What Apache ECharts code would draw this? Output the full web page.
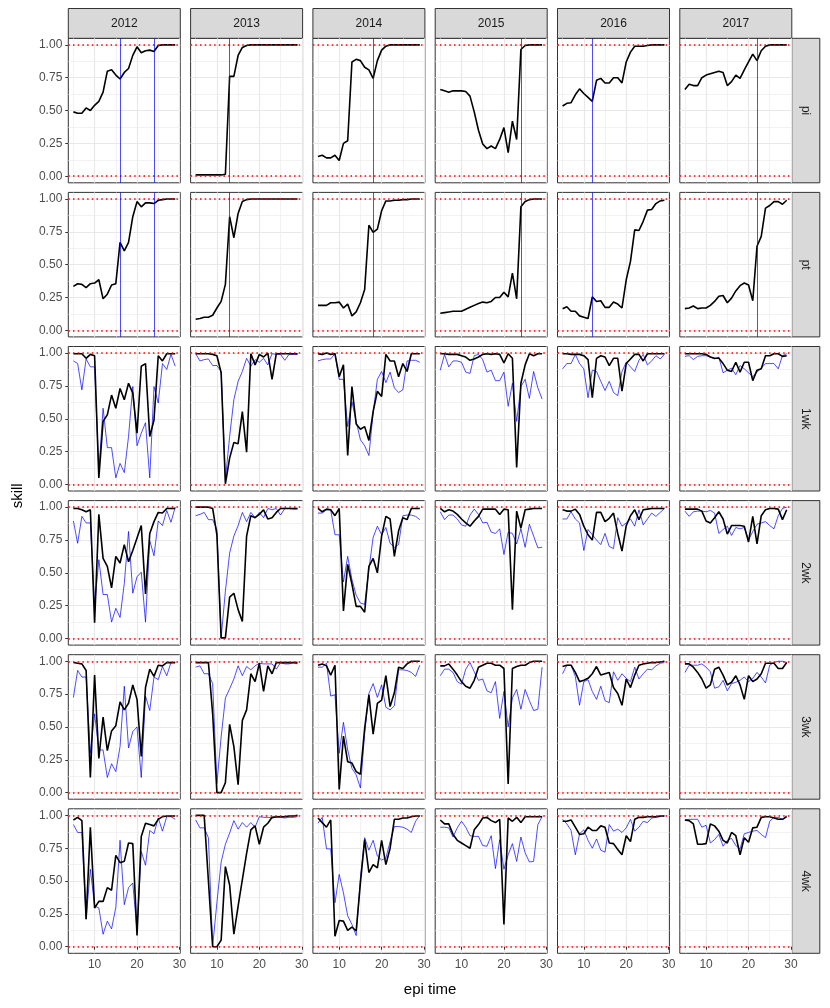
<!DOCTYPE html>
<html>
<head>
<meta charset="utf-8">
<title>skill by epi time</title>
<script src="https://cdn.jsdelivr.net/npm/echarts@6.0.0/dist/echarts.min.js"></script>
<style>
  html, body { margin: 0; padding: 0; background: #fff; }
  #chart { width: 830px; height: 1008px; }
</style>
</head>
<body>
<div id="chart"></div>
<script>
// facets
var years = ['2012', '2013', '2014', '2015', '2016', '2017'];
var rowNames = ['pi', 'pt', '1wk', '2wk', '3wk', '4wk'];

// epi weeks (x values)
var weeks = [5, 6, 7, 8, 9, 10, 11, 12, 13, 14, 15, 16, 17, 18, 19, 20, 21, 22, 23, 24, 25, 26, 27, 28, 29];

// tick labels
var xTicks = [10, 20, 30];
var xMinor = [5, 15, 25];
var yTicks = [0, 0.25, 0.5, 0.75, 1];
var yMinor = [0.125, 0.375, 0.625, 0.875];
var refLines = [0, 1];

// blue vertical markers in pi / pt rows, per year
var peakWeeks = [[16, 24], [13], [18], [24], [12], [22]];

// pi (black)
var pi_2012 = [0.49,0.48,0.48,0.52,0.50,0.54,0.57,0.64,0.80,0.81,0.77,0.74,0.79,0.82,0.92,0.985,0.94,0.955,0.96,0.95,0.995,1,1,1,1];
var pi_2013 = [0.01,0.01,0.01,0.01,0.01,0.01,0.01,0.015,0.76,0.76,0.92,0.98,0.995,1,1,1,1,1,1,1,1,1,1,1,1];
var pi_2014 = [0.15,0.16,0.14,0.14,0.16,0.12,0.25,0.27,0.87,0.89,0.88,0.83,0.81,0.745,0.88,0.96,0.99,1,1,1,1,1,1,1,1];
var pi_2015 = [0.66,0.65,0.64,0.65,0.65,0.65,0.645,0.61,0.49,0.35,0.245,0.21,0.23,0.21,0.28,0.37,0.18,0.42,0.28,0.965,0.995,1,1,1,1];
var pi_2016 = [0.535,0.555,0.56,0.62,0.665,0.63,0.60,0.57,0.73,0.745,0.71,0.71,0.75,0.75,0.71,0.87,0.945,0.99,0.99,0.99,0.995,1,1,1,1];
var pi_2017 = [0.66,0.70,0.69,0.69,0.75,0.77,0.78,0.79,0.80,0.79,0.69,0.72,0.77,0.745,0.81,0.87,0.93,0.88,0.955,0.99,1,1,1,1,1];

// pt (black)
var pt_2012 = [0.335,0.355,0.35,0.325,0.355,0.36,0.385,0.24,0.275,0.345,0.355,0.67,0.605,0.67,0.865,0.98,0.94,0.97,0.97,0.965,0.99,0.995,1,1,1];
var pt_2013 = [0.085,0.09,0.10,0.10,0.115,0.17,0.22,0.35,0.865,0.705,0.89,0.98,0.995,1,1,1,1,1,1,1,1,1,1,1,1];
var pt_2014 = [0.19,0.19,0.19,0.21,0.21,0.215,0.17,0.20,0.11,0.14,0.21,0.31,0.80,0.745,0.77,0.91,0.985,0.985,0.99,0.99,0.995,0.995,1,1,1];
var pt_2015 = [0.13,0.135,0.14,0.145,0.145,0.145,0.16,0.175,0.19,0.205,0.215,0.21,0.22,0.25,0.25,0.29,0.255,0.435,0.24,0.94,0.98,0.995,1,1,1];
var pt_2016 = [0.165,0.18,0.145,0.145,0.11,0.10,0.09,0.255,0.22,0.225,0.175,0.175,0.215,0.20,0.17,0.385,0.525,0.765,0.76,0.83,0.915,0.92,0.965,0.985,0.99];
var pt_2017 = [0.165,0.17,0.185,0.165,0.17,0.17,0.19,0.22,0.26,0.265,0.21,0.245,0.30,0.34,0.36,0.345,0.225,0.64,0.715,0.93,0.95,0.98,0.98,0.96,0.99];

// 1wk
var wk1_2012 = [0.995,0.995,0.995,0.96,0.99,0.98,0.05,0.48,0.53,0.68,0.58,0.73,0.645,0.77,0.695,0.39,0.90,0.92,0.365,0.49,0.98,0.94,0.995,0.995,0.995];
var wk1_2013 = [0.995,0.995,0.995,0.995,0.99,0.98,0.85,0.005,0.20,0.32,0.31,0.555,0.245,0.995,0.91,0.99,0.97,1.0,0.80,0.995,0.995,0.995,0.995,0.995,0.995];
var wk1_2014 = [0.995,0.99,1.0,0.99,0.995,0.82,0.91,0.22,0.745,0.46,0.42,0.44,0.335,0.555,0.71,0.67,0.99,0.94,0.94,0.82,0.92,0.86,0.995,0.995,0.995];
var wk1_2015 = [0.995,0.995,0.99,0.99,0.99,0.98,0.97,0.945,0.955,0.97,0.99,0.995,0.99,0.995,0.99,0.925,0.995,0.96,0.13,0.77,0.91,0.995,0.98,0.995,0.995];
var wk1_2016 = [0.995,0.995,0.99,0.99,0.99,0.98,0.95,0.66,0.96,0.98,0.97,0.905,0.96,0.96,0.71,0.92,0.955,0.99,0.99,0.94,0.995,0.995,0.995,0.995,0.995];
var wk1_2017 = [0.995,0.995,0.995,0.995,0.995,0.99,0.97,0.96,0.96,0.92,0.87,0.86,0.93,0.855,0.93,0.93,0.79,0.87,0.88,0.98,0.98,0.995,0.995,0.975,0.98];
var wk1b_2012 = [0.94,0.92,0.72,0.955,0.895,0.895,0.10,0.58,0.28,0.28,0.05,0.16,0.09,0.365,0.745,0.295,0.39,0.47,0.05,0.745,0.62,0.92,0.875,0.99,0.90];
var wk1b_2013 = [0.995,0.94,0.95,0.955,0.905,0.905,0.86,0.035,0.365,0.645,0.785,0.86,0.96,0.90,0.95,0.93,0.96,0.91,0.995,0.99,0.99,0.945,0.99,0.99,0.99];
var wk1b_2014 = [0.94,0.95,0.955,0.955,0.995,0.80,0.80,0.44,0.63,0.48,0.34,0.295,0.22,0.545,0.80,0.86,0.775,0.855,0.735,0.70,0.72,0.94,0.945,0.945,0.93];
var wk1b_2015 = [0.87,0.99,0.895,0.94,0.94,0.93,0.855,0.845,0.98,0.99,0.95,0.855,0.87,0.79,0.79,0.855,0.595,0.77,0.48,0.745,0.80,0.655,0.86,0.735,0.65];
var wk1b_2016 = [0.88,0.92,0.92,0.99,0.92,0.88,0.66,0.87,0.86,0.785,0.715,0.785,0.70,0.675,0.86,0.93,0.895,0.86,0.945,0.99,0.91,0.94,0.98,0.955,0.99];
var wk1b_2017 = [0.975,0.98,0.95,0.975,0.98,0.98,0.97,0.955,0.97,0.85,0.87,0.885,0.835,0.905,0.88,0.85,0.82,0.855,0.885,0.92,0.92,0.92,0.88,0.98,0.995];

// 2wk
var wk2_2012 = [0.99,0.99,0.98,0.965,0.98,0.12,0.945,0.61,0.55,0.385,0.625,0.575,0.715,0.585,0.67,0.765,0.86,0.34,0.80,0.89,0.96,0.955,0.99,0.99,0.99];
var wk2_2013 = [1,1,1,1,0.99,0.79,0.005,0.005,0.315,0.345,0.22,0.13,0.78,0.935,0.92,0.945,0.98,0.91,0.92,0.96,0.99,0.99,0.99,0.99,0.99];
var wk2_2014 = [0.99,0.965,0.985,0.98,0.935,0.99,0.21,0.565,0.415,0.245,0.245,0.20,0.55,0.61,0.50,0.78,0.93,0.91,0.625,0.82,0.92,0.905,0.99,0.99,0.99];
var wk2_2015 = [0.99,0.965,0.98,0.97,0.945,0.91,0.88,0.855,0.895,0.93,0.985,0.985,0.985,0.985,0.945,0.985,0.98,0.22,0.97,0.84,0.98,0.985,0.99,0.99,0.99];
var wk2_2016 = [0.98,0.97,0.97,0.985,0.945,0.855,0.79,0.75,0.96,0.96,0.89,0.915,0.955,0.80,0.665,0.86,0.935,0.98,0.905,0.98,0.985,0.99,0.99,0.99,0.99];
var wk2_2017 = [0.985,0.985,0.985,0.985,0.97,0.895,0.88,0.92,0.965,0.91,0.795,0.86,0.86,0.86,0.855,0.735,0.93,0.72,0.935,0.98,0.99,0.99,0.985,0.905,0.98];
var wk2b_2012 = [0.895,0.725,0.93,0.88,0.88,0.25,0.60,0.335,0.335,0.125,0.23,0.16,0.42,0.815,0.345,0.47,0.505,0.125,0.745,0.63,0.895,0.86,0.975,0.885,1.0];
var wk2b_2013 = [0.935,0.945,0.96,0.905,0.905,0.83,0.005,0.36,0.65,0.78,0.86,0.96,0.89,0.96,0.92,0.96,0.92,0.99,0.98,0.99,0.94,0.99,0.99,0.985,0.985];
var wk2b_2014 = [0.955,0.955,0.98,0.98,0.79,0.79,0.43,0.625,0.45,0.33,0.27,0.26,0.525,0.77,0.855,0.79,0.845,0.725,0.695,0.715,0.935,0.94,0.94,0.93,0.905];
var wk2b_2015 = [0.965,0.905,0.94,0.94,0.91,0.865,0.855,0.94,0.985,0.945,0.88,0.885,0.81,0.80,0.835,0.64,0.81,0.80,0.72,0.835,0.695,0.87,0.78,0.69,0.695];
var wk2b_2016 = [0.91,0.91,0.965,0.91,0.88,0.67,0.83,0.79,0.75,0.715,0.80,0.70,0.685,0.92,0.855,0.88,0.91,0.855,0.98,0.865,0.91,0.955,0.93,0.96,0.99];
var wk2b_2017 = [0.97,0.93,0.965,0.97,0.97,0.965,0.975,0.955,0.80,0.83,0.855,0.785,0.845,0.835,0.845,0.75,0.815,0.87,0.88,0.89,0.86,0.835,0.935,0.99,1.0];

// 3wk
var wk3_2012 = [0.99,0.985,0.98,0.93,0.115,0.895,0.26,0.575,0.32,0.47,0.51,0.69,0.63,0.68,0.82,0.71,0.275,0.80,0.94,0.885,0.97,0.965,0.99,0.99,0.99];
var wk3_2013 = [0.99,0.99,0.99,0.99,0.60,0.0,0.0,0.075,0.52,0.35,0.06,0.55,0.63,0.905,0.845,0.985,0.77,0.965,0.905,0.99,0.99,0.99,0.99,0.99,0.99];
var wk3_2014 = [0.97,0.98,0.965,0.895,0.97,0.025,0.43,0.235,0.225,0.16,0.14,0.49,0.745,0.445,0.68,0.705,0.89,0.655,0.76,0.955,0.945,0.98,1,1,1];
var wk3_2015 = [0.965,0.965,0.98,0.94,0.895,0.845,0.81,0.795,0.855,0.955,0.97,0.985,0.985,0.97,0.97,0.945,0.065,0.945,0.96,0.97,0.97,0.99,1,1,1];
var wk3_2016 = [0.96,0.97,0.97,0.915,0.845,0.855,0.87,0.905,0.96,0.895,0.905,0.915,0.80,0.755,0.665,0.865,0.80,0.895,0.97,0.98,0.985,0.99,0.99,0.995,1.0];
var wk3_2017 = [0.98,0.98,0.955,0.915,0.865,0.795,0.82,0.94,0.955,0.895,0.82,0.84,0.89,0.82,0.71,0.89,0.845,0.865,0.905,0.985,0.985,0.985,0.945,0.945,0.99];
var wk3b_2012 = [0.725,0.93,0.88,0.88,0.30,0.60,0.325,0.325,0.115,0.22,0.16,0.35,0.81,0.34,0.465,0.50,0.115,0.735,0.625,0.88,0.86,0.96,0.89,0.99,0.99];
var wk3b_2013 = [0.955,0.965,0.905,0.905,0.83,0.07,0.425,0.72,0.79,0.865,0.965,0.89,0.96,0.935,0.965,0.985,0.98,0.98,0.98,0.94,0.99,0.98,0.98,0.99,0.98];
var wk3b_2014 = [0.955,0.955,0.985,0.735,0.745,0.30,0.535,0.325,0.185,0.135,0.035,0.45,0.755,0.83,0.725,0.82,0.65,0.63,0.66,0.935,0.935,0.93,0.915,0.885,0.97];
var wk3b_2015 = [0.89,0.94,0.94,0.915,0.845,0.825,0.94,0.99,0.92,0.855,0.865,0.775,0.76,0.845,0.565,0.77,0.50,0.72,0.785,0.635,0.785,0.70,0.625,0.635,0.955];
var wk3b_2016 = [0.905,0.97,0.97,0.885,0.665,0.845,0.86,0.77,0.71,0.81,0.70,0.685,0.92,0.855,0.905,0.87,0.845,0.955,0.865,0.905,0.94,0.935,0.965,0.985,0.99];
var wk3b_2017 = [0.915,0.97,0.97,0.97,0.98,0.955,0.92,0.795,0.805,0.855,0.775,0.83,0.84,0.855,0.88,0.845,0.87,0.915,0.88,0.835,0.97,0.99,1,1,0.99];

// 4wk
var wk4_2012 = [0.965,0.985,0.96,0.21,0.91,0.295,0.345,0.345,0.45,0.43,0.695,0.64,0.65,0.79,0.785,0.085,0.84,0.94,0.93,0.92,0.97,0.99,0.995,0.995,0.995];
var wk4_2013 = [1,1,1,0.50,0.0,0.0,0.05,0.61,0.47,0.095,0.31,0.51,0.71,0.89,0.92,0.78,0.91,0.94,0.985,0.99,0.99,0.99,0.995,0.995,1];
var wk4_2014 = [0.98,0.945,0.91,0.965,0.08,0.20,0.195,0.125,0.15,0.12,0.485,0.815,0.565,0.625,0.60,0.81,0.625,0.75,0.97,0.97,0.98,0.98,0.99,0.995,0.995];
var wk4_2015 = [0.965,0.935,0.935,0.855,0.81,0.79,0.77,0.75,0.89,0.93,0.98,0.985,0.96,0.945,0.97,0.17,0.98,0.955,0.985,0.945,0.99,0.99,0.99,0.99,0.99];
var wk4_2016 = [0.955,0.955,0.965,0.91,0.855,0.86,0.91,0.885,0.885,0.92,0.91,0.79,0.785,0.74,0.70,0.845,0.80,0.97,0.985,0.985,0.99,0.99,0.99,0.995,0.995];
var wk4_2017 = [0.965,0.96,0.935,0.78,0.78,0.785,0.935,0.92,0.88,0.81,0.79,0.87,0.845,0.70,0.83,0.795,0.905,0.91,0.985,0.99,0.99,0.98,0.97,0.97,0.99];
var wk4b_2012 = [0.93,0.87,0.87,0.21,0.59,0.31,0.295,0.095,0.195,0.135,0.30,0.81,0.32,0.45,0.485,0.12,0.725,0.62,0.885,0.86,0.98,0.88,0.99,0.99,0.97];
var wk4b_2013 = [0.965,0.905,0.905,0.83,0.005,0.335,0.645,0.78,0.865,0.96,0.895,0.945,0.91,0.945,0.91,0.99,0.985,0.985,0.98,0.985,0.985,0.98,0.985,0.985,0.99];
var wk4b_2014 = [0.94,0.985,0.745,0.745,0.335,0.55,0.41,0.235,0.17,0.085,0.525,0.83,0.735,0.81,0.69,0.66,0.675,0.80,0.915,0.915,0.91,0.895,0.87,0.955,1.0];
var wk4b_2015 = [0.91,0.91,0.905,0.835,0.905,0.955,0.91,0.845,0.84,0.84,0.77,0.765,0.845,0.595,0.815,0.59,0.70,0.785,0.65,0.835,0.715,0.645,0.65,0.93,0.99];
var wk4b_2016 = [0.97,0.935,0.885,0.70,0.86,0.89,0.81,0.75,0.82,0.735,0.72,0.93,0.88,0.895,0.87,0.905,0.97,0.88,0.91,0.955,0.945,0.98,0.985,0.99,0.995];
var wk4b_2017 = [0.965,0.97,0.97,0.97,0.91,0.925,0.79,0.815,0.855,0.765,0.81,0.825,0.77,0.745,0.86,0.87,0.88,0.885,0.855,0.83,0.955,0.985,0.985,0.97,0.995];

// tables: row -> year
var blackLines = [
    [pi_2012, pi_2013, pi_2014, pi_2015, pi_2016, pi_2017],
    [pt_2012, pt_2013, pt_2014, pt_2015, pt_2016, pt_2017],
    [wk1_2012, wk1_2013, wk1_2014, wk1_2015, wk1_2016, wk1_2017],
    [wk2_2012, wk2_2013, wk2_2014, wk2_2015, wk2_2016, wk2_2017],
    [wk3_2012, wk3_2013, wk3_2014, wk3_2015, wk3_2016, wk3_2017],
    [wk4_2012, wk4_2013, wk4_2014, wk4_2015, wk4_2016, wk4_2017]
];
var blueLines = [
    null,
    null,
    [wk1b_2012, wk1b_2013, wk1b_2014, wk1b_2015, wk1b_2016, wk1b_2017],
    [wk2b_2012, wk2b_2013, wk2b_2014, wk2b_2015, wk2b_2016, wk2b_2017],
    [wk3b_2012, wk3b_2013, wk3b_2014, wk3b_2015, wk3b_2016, wk3b_2017],
    [wk4b_2012, wk4b_2013, wk4b_2014, wk4b_2015, wk4b_2016, wk4b_2017]
];

// layout of the facet grid (px)
var panelLeft = 68.3, panelTop = 38.3, panelW = 112, panelH = 144.5;
var stepX = 122.3, stepY = 154.1;
var stripTop = 8.5, stripW = 28;
var xMin = 3.8, xMax = 30.2, yMin = -0.05, yMax = 1.05;
var fontName = '"Liberation Sans", Arial, sans-serif';

function pairs(xs, ys) {
    return xs.map(function (x, i) { return [x, ys[i]]; });
}

var myChart = echarts.init(document.getElementById('chart'));
var grids = [], xAxes = [], yAxes = [], series = [], graphics = [];

rowNames.forEach(function (rowName, r) {
    years.forEach(function (year, c) {
        var g = grids.length;
        var lastRow = r === rowNames.length - 1;
        var firstCol = c === 0;
        grids.push({
            left: panelLeft + c * stepX, top: panelTop + r * stepY,
            width: panelW, height: panelH,
            show: true, backgroundColor: '#ffffff', borderColor: '#333333', borderWidth: 1
        });
        // major x axis (carries the data)
        xAxes.push({
            gridIndex: g, type: 'value', min: xMin, max: xMax, position: 'bottom',
            axisLine: { show: false },
            axisTick: { show: lastRow, length: 3, lineStyle: { color: '#333333', width: 1 }, customValues: xTicks },
            axisLabel: { show: lastRow, customValues: xTicks, color: '#4d4d4d', fontSize: 12, fontFamily: fontName, margin: 5 },
            splitLine: { show: true, lineStyle: { color: '#e8e8e8', width: 1.2 } }
        });
        // minor x grid
        xAxes.push({
            gridIndex: g, type: 'value', min: xMin, max: xMax, position: 'bottom',
            axisLine: { show: false },
            axisTick: { show: false, customValues: xMinor },
            axisLabel: { show: false, customValues: xMinor },
            splitLine: { show: true, lineStyle: { color: '#ececec', width: 0.7 } }
        });
        yAxes.push({
            gridIndex: g, type: 'value', min: yMin, max: yMax, position: 'left',
            axisLine: { show: false },
            axisTick: { show: firstCol, length: 3, lineStyle: { color: '#333333', width: 1 }, customValues: yTicks },
            axisLabel: {
                show: firstCol, customValues: yTicks, color: '#4d4d4d', fontSize: 12, fontFamily: fontName, margin: 6,
                formatter: function (v) { return v.toFixed(2); }
            },
            splitLine: { show: true, lineStyle: { color: '#e8e8e8', width: 1.2 } }
        });
        yAxes.push({
            gridIndex: g, type: 'value', min: yMin, max: yMax, position: 'left',
            axisLine: { show: false },
            axisTick: { show: false, customValues: yMinor },
            axisLabel: { show: false, customValues: yMinor },
            splitLine: { show: true, lineStyle: { color: '#ececec', width: 0.7 } }
        });

        if (blueLines[r]) {
            series.push({
                type: 'line', xAxisIndex: 2 * g, yAxisIndex: 2 * g,
                data: pairs(weeks, blueLines[r][c]),
                symbol: 'none', silent: true, z: 2,
                lineStyle: { color: '#0000ff', width: 0.7 }
            });
        }

        var marks = refLines.map(function (v) {
            return { yAxis: v, lineStyle: { color: '#ff0000', width: 1.5, type: [1.5, 3.2], cap: 'butt' } };
        });
        if (r < 2) {
            peakWeeks[c].forEach(function (w) {
                marks.push({ xAxis: w, lineStyle: { color: '#0000ff', width: 0.7, type: 'solid' } });
            });
        }
        series.push({
            type: 'line', xAxisIndex: 2 * g, yAxisIndex: 2 * g,
            data: pairs(weeks, blackLines[r][c]),
            symbol: 'none', silent: true, z: 3,
            lineStyle: { color: '#000000', width: 1.6 },
            markLine: { silent: true, symbol: ['none', 'none'], label: { show: false }, animation: false, data: marks }
        });
    });
});

// strips: years on top
years.forEach(function (year, c) {
    var x = panelLeft + c * stepX;
    graphics.push({
        type: 'rect', shape: { x: x, y: stripTop, width: panelW, height: panelTop - stripTop },
        style: { fill: '#d9d9d9', stroke: '#333333', lineWidth: 1 }, silent: true
    });
    graphics.push({
        type: 'text', x: x + panelW / 2, y: (stripTop + panelTop) / 2,
        style: { text: year, fill: '#1a1a1a', font: '12px ' + fontName, align: 'center', verticalAlign: 'middle', textAlign: 'center', textVerticalAlign: 'middle' },
        silent: true
    });
});
// strips: rows on the right
rowNames.forEach(function (name, r) {
    var x = panelLeft + 5 * stepX + panelW;
    var y = panelTop + r * stepY;
    graphics.push({
        type: 'rect', shape: { x: x, y: y, width: stripW, height: panelH },
        style: { fill: '#d9d9d9', stroke: '#333333', lineWidth: 1 }, silent: true
    });
    graphics.push({
        type: 'text', x: x + stripW / 2, y: y + panelH / 2, rotation: -Math.PI / 2,
        style: { text: name, fill: '#1a1a1a', font: '12px ' + fontName, align: 'center', verticalAlign: 'middle', textAlign: 'center', textVerticalAlign: 'middle' },
        silent: true
    });
});
// axis titles
var midX = panelLeft + (5 * stepX + panelW) / 2;
var midY = panelTop + (5 * stepY + panelH) / 2;
graphics.push({
    type: 'text', x: midX, y: 990,
    style: { text: 'epi time', fill: '#000000', font: '15px ' + fontName, align: 'center', verticalAlign: 'middle', textAlign: 'center', textVerticalAlign: 'middle' },
    silent: true
});
graphics.push({
    type: 'text', x: 18, y: midY, rotation: Math.PI / 2,
    style: { text: 'skill', fill: '#000000', font: '15px ' + fontName, align: 'center', verticalAlign: 'middle', textAlign: 'center', textVerticalAlign: 'middle' },
    silent: true
});

var option = {
    animation: false,
    backgroundColor: '#ffffff',
    grid: grids,
    xAxis: xAxes,
    yAxis: yAxes,
    series: series,
    graphic: { elements: graphics }
};
myChart.setOption(option);
</script>
</body>
</html>
